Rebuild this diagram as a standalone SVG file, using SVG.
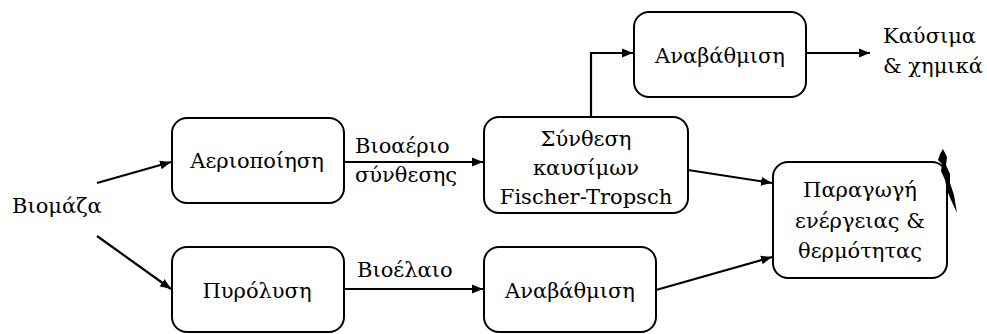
<svg xmlns="http://www.w3.org/2000/svg" width="987" height="334" viewBox="0 0 987 334">
<style>
.box{fill:#fff;stroke:#000;stroke-width:2}
.t{font-family:"DejaVu Serif","Liberation Serif",serif;font-size:21px;fill:#000}
.m{text-anchor:middle}
.c{fill:none;stroke:#000;stroke-width:2.2}
</style>
<defs>
<marker id="ah" viewBox="0 0 10 10" refX="10" refY="5" markerWidth="5" markerHeight="5" orient="auto" markerUnits="strokeWidth">
<path d="M0,1 L10,5 L0,9 Z" fill="#000"/>
</marker>
</defs>
<rect width="987" height="334" fill="#fff"/>
<g id="connectors">
<line class="c" x1="97" y1="183" x2="171" y2="162" marker-end="url(#ah)"/>
<line class="c" x1="97" y1="236" x2="171" y2="289" marker-end="url(#ah)"/>
<line class="c" x1="344" y1="162" x2="483" y2="162" marker-end="url(#ah)"/>
<line class="c" x1="344" y1="289" x2="483" y2="289" marker-end="url(#ah)"/>
<polyline class="c" points="591,117 591,53 633,53" marker-end="url(#ah)"/>
<line class="c" x1="806" y1="53" x2="870" y2="53" marker-end="url(#ah)"/>
<line class="c" x1="688" y1="170" x2="772" y2="183" marker-end="url(#ah)"/>
<line class="c" x1="656" y1="290" x2="772" y2="257" marker-end="url(#ah)"/>
</g>
<g id="biomass"><text class="t" x="12" y="213">Βιομάζα</text></g>
<g id="gasification">
<rect class="box" x="172" y="118" width="172" height="85" rx="15"/>
<text class="t m" x="257" y="168">Αεριοποίηση</text>
</g>
<g id="pyrolysis">
<rect class="box" x="172" y="247" width="172" height="85" rx="15"/>
<text class="t m" x="257" y="298">Πυρόλυση</text>
</g>
<g id="syngas-label">
<text class="t" x="355" y="153">Βιοαέριο</text>
<text class="t" x="355" y="182">σύνθεσης</text>
</g>
<g id="bio-oil-label"><text class="t" x="357" y="277">Βιοέλαιο</text></g>
<g id="ft-synthesis">
<rect class="box" x="484" y="117" width="204" height="96" rx="15"/>
<text class="t m" x="586" y="146">Σύνθεση</text>
<text class="t m" x="586" y="175">καυσίμων</text>
<text class="t m" x="586" y="204">Fischer-Tropsch</text>
</g>
<g id="upgrading-top">
<rect class="box" x="634" y="12" width="172" height="85" rx="15"/>
<text class="t m" x="720" y="63">Αναβάθμιση</text>
</g>
<g id="fuels-chemicals">
<text class="t" x="883" y="43">Καύσιμα</text>
<text class="t" x="883" y="73">&amp; χημικά</text>
</g>
<g id="upgrading-bottom">
<rect class="box" x="484" y="247" width="172" height="85" rx="15"/>
<text class="t m" x="570" y="298">Αναβάθμιση</text>
</g>
<g id="power-heat">
<rect class="box" x="773" y="162" width="174" height="116" rx="15"/>
<text class="t m" x="860" y="197">Παραγωγή</text>
<text class="t m" x="860" y="228">ενέργειας &amp;</text>
<text class="t m" x="860" y="258">θερμότητας</text>
<polygon points="943,149 947,157 946,165 950,174 950,183 954,195 957,213 951,200 947,190 945,180 941,171 942,164 938,160 940,154" fill="#000"/>
</g>
</svg>
